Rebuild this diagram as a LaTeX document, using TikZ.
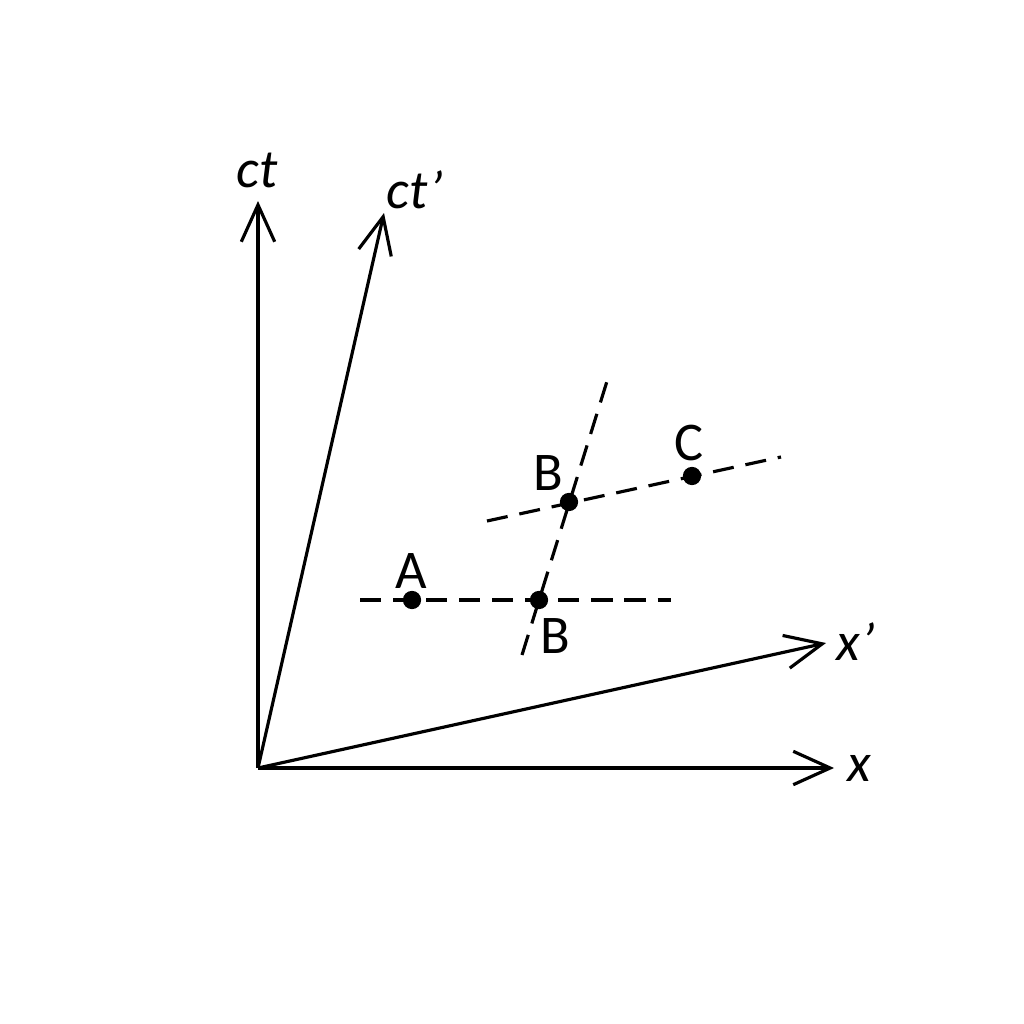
\documentclass[tikz,border=0pt]{standalone}
\usepackage{fontspec}
\setmainfont{Carlito}
\usetikzlibrary{arrows.meta}
\begin{document}
\begin{tikzpicture}[x=0.01cm,y=-0.01cm,
  axis/.style={line width=0.9pt,-{Straight Barb[length=10.5pt,width=9.5pt,line width=0.9pt]}},
  guide/.style={line width=0.9pt,dash pattern=on 6pt off 3.4pt},
  pt/.style={circle,fill=black,inner sep=0pt,minimum size=5.2pt},
  lbl/.style={font=\fontsize{15.5}{18}\selectfont,inner sep=0pt},
  axlbl/.style={font=\fontsize{15.5}{18}\selectfont\itshape,inner sep=0pt}]
\useasboundingbox (0,0) rectangle (1024,1024);
\coordinate (O) at (258,768);
\coordinate (xe) at (834,768);
\coordinate (te) at (258,201);
\coordinate (tpe) at (384,213);
\coordinate (xpe) at (826,643);
\draw[axis] (O) -- (xe);
\draw[axis] (O) -- (te);
\draw[axis] (O) -- (tpe);
\draw[axis] (O) -- (xpe);
\node[axlbl] (lx) at (859,768) {x};
\node[axlbl] (lxp) at (856,642) {x’};
\node[axlbl] (lt) at (257,170) {ct};
\node[axlbl] (ltp) at (415,190) {ct’};
% dashed guides
\coordinate (h1) at (360,600);
\coordinate (h2) at (671,600);
\coordinate (p1) at (487,521);
\coordinate (p2) at (781,457);
\coordinate (s1) at (522,655);
\coordinate (s2) at (608,378);
\draw[guide] (h1) -- (h2);
\draw[guide] (p1) -- (p2);
\draw[guide] (s1) -- (s2);
\node[pt] (A) at (412,600) {};
\node[pt] (B) at (539,600) {};
\node[pt] (Bp) at (569,502) {};
\node[pt] (C) at (692,476) {};
\node[lbl] (lA) at (411,571) {A};
\node[lbl] (lB) at (555,636) {B};
\node[lbl] (lBp) at (548,473) {B};
\node[lbl] (lC) at (689,443) {C};
\end{tikzpicture}
\end{document}
